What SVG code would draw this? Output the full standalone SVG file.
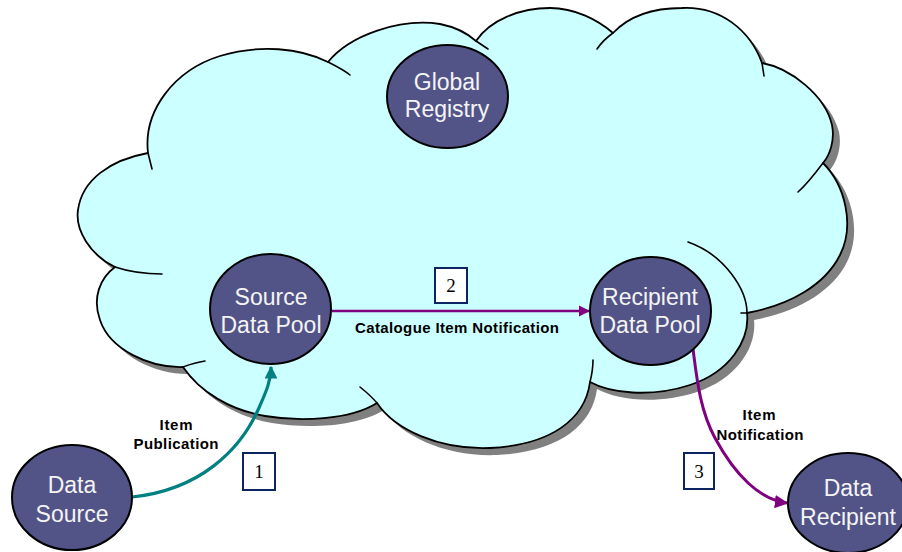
<svg xmlns="http://www.w3.org/2000/svg" width="902" height="552" viewBox="0 0 902 552">
  <defs>
    <style>
      .cloud { fill: #ccffff; stroke: #000; stroke-width: 1.8; stroke-linejoin: round; }
      .cloud-shadow { fill: #808080; }
      .tail { fill: none; stroke: #000; stroke-width: 1.6; stroke-linecap: round; }
      .node ellipse { fill: #525488; stroke: #000; stroke-width: 2; }
      .node text { font-family: "Liberation Sans", Arial, sans-serif; font-size: 23px; fill: #f4f4f4; text-anchor: middle; }
      .label { font-family: "Liberation Sans", Arial, sans-serif; font-size: 15px; font-weight: bold; fill: #000; text-anchor: middle; }
      .step rect { fill: #fff; stroke: #0d2463; stroke-width: 2; }
      .step text { font-family: "Liberation Serif", "Times New Roman", serif; font-size: 19px; fill: #000; text-anchor: middle; }
      .flow-teal { fill: none; stroke: #008080; stroke-width: 3.2; }
      .flow-purple { fill: none; stroke: #800080; stroke-width: 2.5; }
    </style>
    <marker id="arrow-teal" viewBox="0 0 10 10" refX="9" refY="5" markerWidth="4" markerHeight="4" orient="auto" markerUnits="strokeWidth">
      <path d="M0,0 L10,5 L0,10 z" fill="#008080"/>
    </marker>
    <marker id="arrow-purple" viewBox="0 0 10 10" refX="9" refY="5" markerWidth="4.5" markerHeight="4.5" orient="auto" markerUnits="strokeWidth">
      <path d="M0,0 L10,5 L0,10 z" fill="#800080"/>
    </marker>
    <!-- outline of the network cloud, lobe by lobe, clockwise -->
    <path id="cloud-outline" d="
      M148,153
      C143,110 175,70 220,56 C260,44 300,48 328,62
      C350,35 400,18 440,24 C455,27 467,33 476,41
      C490,20 520,8 550,8 C575,8 598,20 613,33
      C630,15 655,8 682,8 C720,6 750,30 762,63
      C790,68 825,95 832,125 C835,140 830,155 823,163
      C845,185 855,225 840,255 C825,285 790,305 747,313
      C750,340 730,372 690,385 C650,398 610,393 590,382
      C585,420 550,445 490,448 C440,450 395,430 377,403
      C350,420 300,422 265,416 C230,410 200,392 183,367
      C150,368 110,350 100,320 C92,298 100,278 115,267
      C90,255 75,230 78,210 C82,180 110,160 148,153 Z"/>
  </defs>

  <!-- cloud with drop shadow -->
  <g id="cloud">
    <use href="#cloud-outline" class="cloud-shadow" transform="translate(7,7)"/>
    <use href="#cloud-outline" class="cloud"/>
    <path class="tail" d="M148,153 L152,169"/>
    <path class="tail" d="M328,62 C336,66 344,70 350,75"/>
    <path class="tail" d="M476,41 L488,49"/>
    <path class="tail" d="M613,33 C606,38 601,43 597,49"/>
    <path class="tail" d="M762,63 L764,76"/>
    <path class="tail" d="M823,163 C814,175 806,185 798,192"/>
    <path class="tail" d="M747,313 C747,290 725,255 688,242"/>
    <path class="tail" d="M747,313 L741,313"/>
    <path class="tail" d="M590,382 C592,374 593,367 593,360"/>
    <path class="tail" d="M377,403 C371,396 365,391 360,387"/>
    <path class="tail" d="M183,367 C191,364 198,362 205,361"/>
    <path class="tail" d="M115,267 C130,272 145,274 162,274"/>
  </g>

  <!-- connectors -->
  <g id="connectors">
    <path class="flow-teal" d="M132,497 C200,490 240,450 258,410 C267,390 271,380 271,367" marker-end="url(#arrow-teal)"/>
    <path class="flow-purple" d="M332,311 L589,311" marker-end="url(#arrow-purple)"/>
    <path class="flow-purple" style="stroke-width:3" d="M693,349 C697,380 700,410 715,438 C735,475 760,500 787,503" marker-end="url(#arrow-purple)"/>
    <text class="label" x="176" y="430" textLength="33" lengthAdjust="spacing">Item</text>
    <text class="label" x="176" y="449" textLength="85" lengthAdjust="spacing">Publication</text>
    <text class="label" x="457" y="333" textLength="204" lengthAdjust="spacing">Catalogue Item Notification</text>
    <text class="label" x="759" y="420" textLength="33" lengthAdjust="spacing">Item</text>
    <text class="label" x="760" y="440" textLength="87" lengthAdjust="spacing">Notification</text>
  </g>

  <g id="global-registry" class="node">
    <ellipse cx="447.5" cy="96.5" rx="60.5" ry="51.5"/>
    <text x="447" y="90">Global</text>
    <text x="447" y="117">Registry</text>
  </g>
  <g id="source-data-pool" class="node">
    <ellipse cx="270.5" cy="309" rx="60.5" ry="55"/>
    <text x="271" y="305">Source</text>
    <text x="271" y="333">Data Pool</text>
  </g>
  <g id="recipient-data-pool" class="node">
    <ellipse cx="650.5" cy="311" rx="60.5" ry="54"/>
    <text x="650" y="305">Recipient</text>
    <text x="650" y="333">Data Pool</text>
  </g>
  <g id="data-source" class="node">
    <ellipse cx="72" cy="497.5" rx="60" ry="52.5"/>
    <text x="72" y="493">Data</text>
    <text x="72" y="522">Source</text>
  </g>
  <g id="data-recipient" class="node">
    <ellipse cx="848" cy="503" rx="60" ry="50"/>
    <text x="848" y="496">Data</text>
    <text x="848" y="525">Recipient</text>
  </g>

  <!-- step numbers -->
  <g id="step-1" class="step">
    <rect x="243" y="453" width="32" height="37"/>
    <text x="259" y="478">1</text>
  </g>
  <g id="step-2" class="step">
    <rect x="435" y="268" width="32" height="35"/>
    <text x="451" y="292">2</text>
  </g>
  <g id="step-3" class="step">
    <rect x="684" y="453" width="30" height="36"/>
    <text x="699" y="478">3</text>
  </g>
</svg>
